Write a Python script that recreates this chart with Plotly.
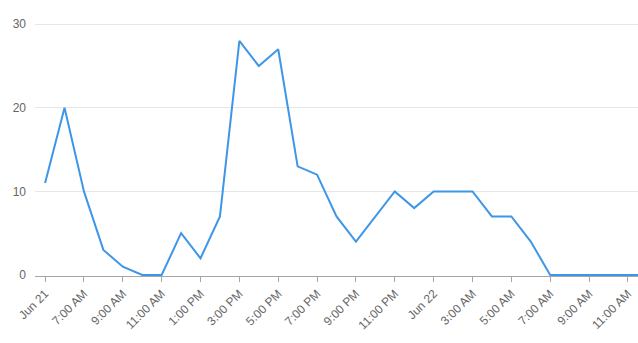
import plotly.graph_objects as go

# hourly values, first point at the "Jun 21" tick
values = [11, 20, 10, 3, 1, 0, 0, 5, 2, 7, 28, 25, 27, 13, 12, 7, 4, 7, 10, 8,
          10, 10, 10, 7, 7, 4, 0, 0, 0, 0, 0, 0]
hours = list(range(len(values)))

tick_labels = ["Jun 21", "7:00 AM", "9:00 AM", "11:00 AM", "1:00 PM", "3:00 PM",
               "5:00 PM", "7:00 PM", "9:00 PM", "11:00 PM", "Jun 22", "3:00 AM",
               "5:00 AM", "7:00 AM", "9:00 AM", "11:00 AM"]
tick_positions = [2 * i for i in range(len(tick_labels))]

y_ticks = [0, 10, 20, 30]

fig = go.Figure()
fig.add_trace(go.Scatter(
    x=hours, y=values, mode="lines",
    line=dict(color="#3d96e8", width=2),
    hoverinfo="x+y", cliponaxis=False,
))

fig.update_layout(
    width=638, height=343,
    margin=dict(l=35, r=0, t=20, b=67),
    paper_bgcolor="white", plot_bgcolor="white",
    showlegend=False,
    font=dict(family="Liberation Sans, Arial, sans-serif", size=12, color="#666666"),
    xaxis=dict(
        range=[-0.52, 30.52],
        tickmode="array", tickvals=tick_positions, ticktext=tick_labels,
        tickangle=-45,
        showgrid=False, zeroline=False,
        showline=True, linecolor="#a6a6a6", linewidth=1,
        ticks="outside", ticklen=5, tickcolor="#a6a6a6",
        tickfont=dict(size=12, color="#666666"),
    ),
    yaxis=dict(
        range=[-0.12, 30.5],
        tickmode="array", tickvals=y_ticks,
        showgrid=True, gridcolor="#e6e6e6", gridwidth=1,
        zeroline=False, showline=False,
        ticks="", ticklabelstandoff=8,
        tickfont=dict(size=12, color="#666666"),
    ),
)

fig.write_html("out.html")
